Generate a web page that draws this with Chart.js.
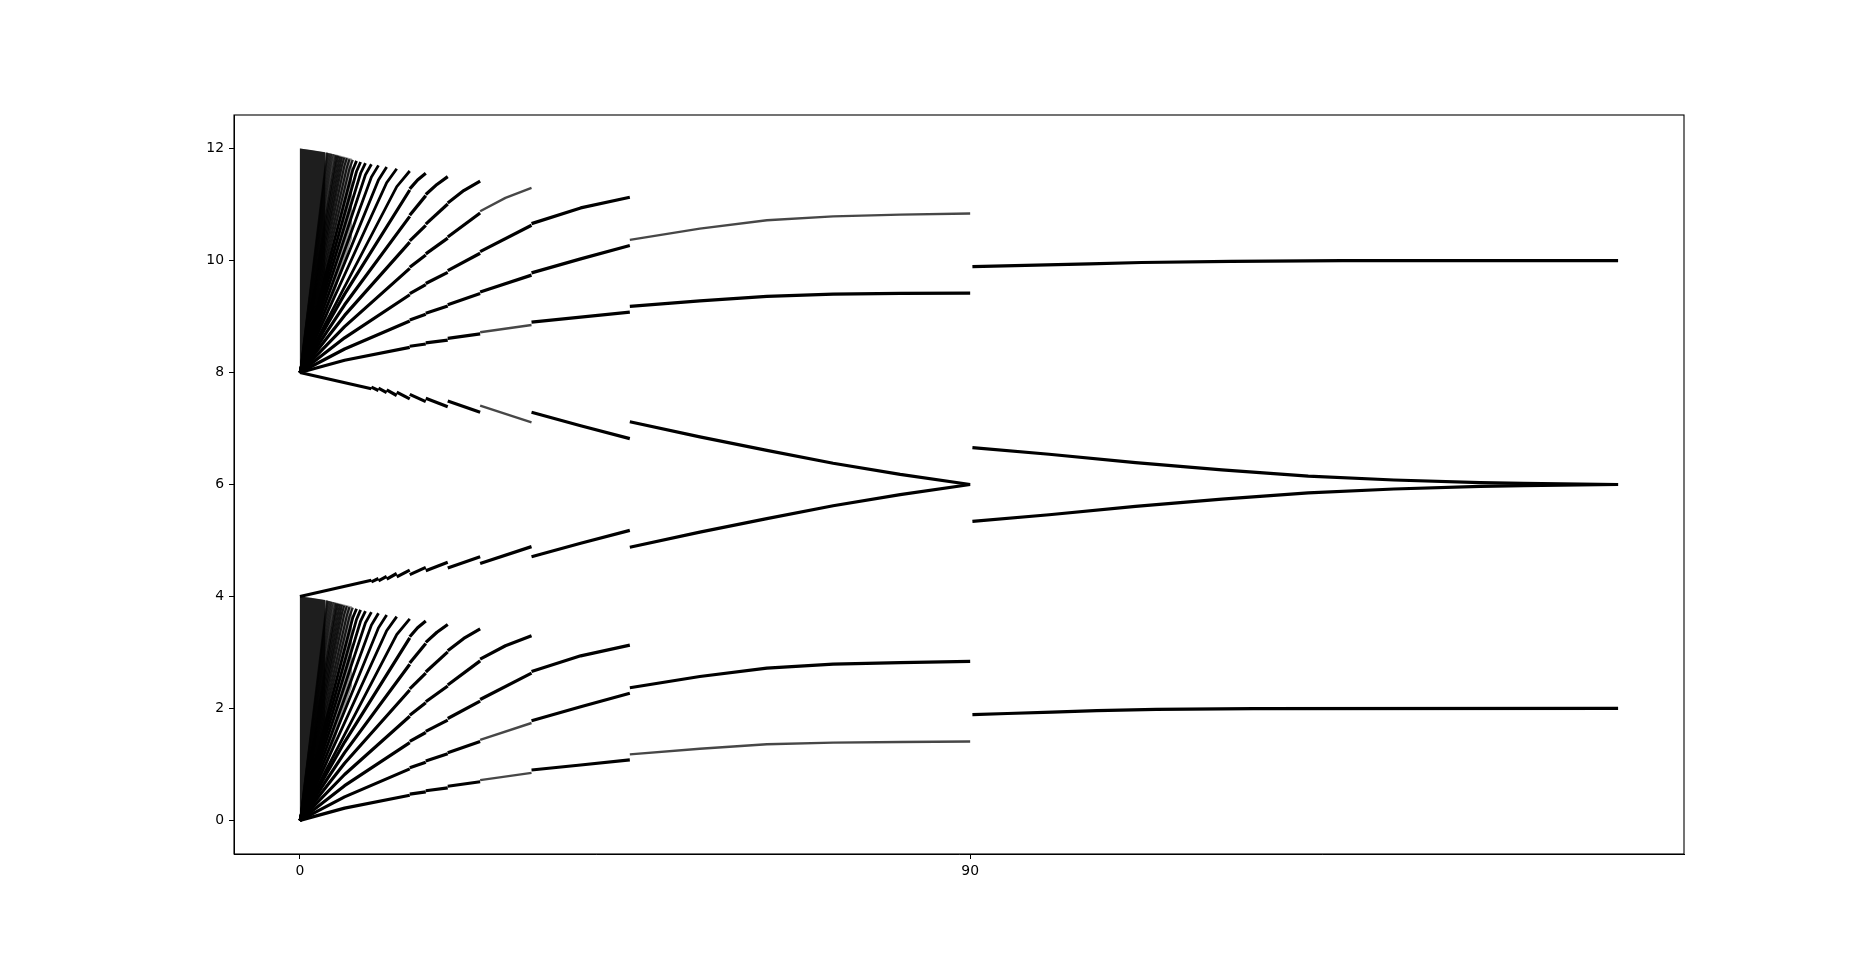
<!DOCTYPE html>
<html><head><meta charset="utf-8">
<script src="https://cdn.jsdelivr.net/npm/chart.js@4.4.1/dist/chart.umd.min.js"></script>
<style>html,body{margin:0;padding:0;background:#fff;}canvas{display:block;}</style>
</head><body>
<canvas id="c" width="1871" height="959"></canvas>
<script>
const xTicks = [0, 90];
const yTicks = [0, 2, 4, 6, 8, 10, 12];

// ---- upper fan (8..12): each ray split into its segment pieces ----
const topRay0 = [
 [[90.3,9.89],[96,9.91],[106,9.94],[113,9.965],[125,9.985],[140,9.998],[177,10.0]],
 [[44.3,9.18],[53.7,9.28],[62.7,9.36],[71.6,9.40],[80.6,9.415],[90,9.42]],
 [[31.1,8.90],[37.7,8.99],[44.3,9.08]],
 [[24.2,8.72],[31.1,8.85]],
 [[19.85,8.61],[24.2,8.69]],
 [[16.9,8.53],[19.85,8.58]],
 [[14.75,8.47],[16.9,8.51]],
 [[0,8],[6,8.22],[14.75,8.45]]
];
const topRay1 = [
 [[44.3,10.37],[53.7,10.57],[62.7,10.72],[71.6,10.79],[80.6,10.82],[90,10.84]],
 [[31.1,9.78],[37.7,10.03],[44.3,10.27]],
 [[24.2,9.44],[31.1,9.74]],
 [[19.85,9.21],[24.2,9.41]],
 [[16.9,9.06],[19.85,9.19]],
 [[14.75,8.94],[16.9,9.04]],
 [[0,8],[6,8.42],[14.75,8.92]]
];
const topRay2 = [
 [[31.1,10.66],[37.7,10.94],[44.3,11.13]],
 [[24.2,10.16],[31.1,10.63]],
 [[19.85,9.82],[24.2,10.13]],
 [[16.9,9.59],[19.85,9.79]],
 [[14.75,9.41],[16.9,9.57]],
 [[0,8],[6,8.62],[14.75,9.39]]
];
const topRay3 = [
 [[24.2,10.88],[27.6,11.12],[31.1,11.30]],
 [[19.85,10.42],[24.2,10.85]],
 [[16.9,10.12],[19.85,10.40]],
 [[14.75,9.88],[16.9,10.10]],
 [[0,8],[6,8.82],[14.75,9.86]]
];
const topRay4 = [
 [[19.85,11.03],[22,11.25],[24.2,11.42]],
 [[16.9,10.65],[19.85,11.01]],
 [[14.75,10.35],[16.9,10.63]],
 [[0,8],[6,9.02],[14.75,10.33]]
];
const topRay5 = [
 [[16.9,11.18],[18.4,11.36],[19.85,11.50]],
 [[14.75,10.81],[16.9,11.16]],
 [[0,8],[6,9.21],[14.75,10.79]]
];
const topRay6 = [
 [[14.75,11.28],[15.8,11.44],[16.9,11.56]],
 [[0,8],[6,9.40],[14.75,11.26]]
];

// ---- lower fan (0..4) ----
const botRay0 = [
 [[90.3,1.89],[95,1.91],[101,1.935],[107,1.96],[115,1.985],[128,1.998],[177,2.0]],
 [[44.3,1.18],[53.7,1.28],[62.7,1.36],[71.6,1.39],[80.6,1.40],[90,1.41]],
 [[31.1,0.90],[37.7,0.99],[44.3,1.08]],
 [[24.2,0.72],[31.1,0.85]],
 [[19.85,0.61],[24.2,0.69]],
 [[16.9,0.53],[19.85,0.58]],
 [[14.75,0.47],[16.9,0.51]],
 [[0,0],[6,0.22],[14.75,0.45]]
];
const botRay1 = [
 [[44.3,2.37],[53.7,2.57],[62.7,2.72],[71.6,2.79],[80.6,2.82],[90,2.84]],
 [[31.1,1.78],[37.7,2.03],[44.3,2.27]],
 [[24.2,1.44],[31.1,1.74]],
 [[19.85,1.21],[24.2,1.41]],
 [[16.9,1.06],[19.85,1.19]],
 [[14.75,0.94],[16.9,1.04]],
 [[0,0],[6,0.42],[14.75,0.92]]
];
const botRay2 = [
 [[31.1,2.66],[37.7,2.94],[44.3,3.13]],
 [[24.2,2.16],[31.1,2.63]],
 [[19.85,1.82],[24.2,2.13]],
 [[16.9,1.59],[19.85,1.79]],
 [[14.75,1.41],[16.9,1.57]],
 [[0,0],[6,0.62],[14.75,1.39]]
];
const botRay3 = [
 [[24.2,2.88],[27.6,3.12],[31.1,3.30]],
 [[19.85,2.42],[24.2,2.85]],
 [[16.9,2.12],[19.85,2.40]],
 [[14.75,1.88],[16.9,2.10]],
 [[0,0],[6,0.82],[14.75,1.86]]
];
const botRay4 = [
 [[19.85,3.03],[22,3.25],[24.2,3.42]],
 [[16.9,2.65],[19.85,3.01]],
 [[14.75,2.35],[16.9,2.63]],
 [[0,0],[6,1.02],[14.75,2.33]]
];
const botRay5 = [
 [[16.9,3.18],[18.4,3.36],[19.85,3.50]],
 [[14.75,2.81],[16.9,3.16]],
 [[0,0],[6,1.21],[14.75,2.79]]
];
const botRay6 = [
 [[14.75,3.28],[15.8,3.44],[16.9,3.56]],
 [[0,0],[6,1.40],[14.75,3.26]]
];

// ---- middle branches (8 -> 6 and 4 -> 6) ----
const midUpper = [
 [[90.3,6.66],[100.6,6.54],[112.2,6.39],[123.8,6.26],[135.4,6.15],[146.9,6.08],[158.5,6.035],[164.3,6.02],[177,6.0]],
 [[44.3,7.12],[53.7,6.85],[62.7,6.61],[71.6,6.38],[80.6,6.18],[90,6.0]],
 [[31.1,7.29],[37.7,7.05],[44.3,6.82]],
 [[24.2,7.41],[31.1,7.11]],
 [[19.85,7.49],[24.2,7.29]],
 [[16.9,7.54],[19.85,7.39]],
 [[14.75,7.61],[16.9,7.48]],
 [[13.0,7.65],[14.75,7.53]],
 [[11.65,7.69],[13.0,7.59]],
 [[10.55,7.72],[11.65,7.64]],
 [[9.6,7.74],[10.55,7.68]],
 [[0,8],[9.6,7.71]]
];
const midLower = [
 [[90.3,5.34],[100.6,5.46],[112.2,5.61],[123.8,5.74],[135.4,5.85],[146.9,5.92],[158.5,5.965],[164.3,5.98],[177,6.0]],
 [[44.3,4.88],[53.7,5.15],[62.7,5.39],[71.6,5.62],[80.6,5.82],[90,6.0]],
 [[31.1,4.71],[37.7,4.95],[44.3,5.18]],
 [[24.2,4.59],[31.1,4.89]],
 [[19.85,4.51],[24.2,4.71]],
 [[16.9,4.46],[19.85,4.61]],
 [[14.75,4.39],[16.9,4.52]],
 [[13.0,4.35],[14.75,4.47]],
 [[11.65,4.31],[13.0,4.41]],
 [[10.55,4.28],[11.65,4.36]],
 [[9.6,4.26],[10.55,4.32]],
 [[0,4],[9.6,4.29]]
];

// ---- dense part of the fans (rays 7..30) ----
const denseEndX = [14.75,13.0,11.65,10.55,9.6,8.8,8.15,7.6,7.1,6.65,6.3,5.95,5.65,5.4,5.15,4.9,4.7,4.5,4.3,4.15,4.0,3.85,3.7,3.6];
const denseMidX = [13.0,11.65,10.55,9.6,8.8,8.15,7.6,7.1,6.65,6.3,5.95,5.65,5.4,5.15,4.9,4.7,4.5,4.3,4.15,4.0,3.85,3.7,3.6,3.5];
const denseTopEndY = [11.60,11.64,11.67,11.70,11.72,11.74,11.76,11.78,11.80,11.81,11.83,11.84,11.85,11.86,11.87,11.88,11.89,11.90,11.905,11.91,11.915,11.92,11.925,11.93];
const denseTopMidY = [11.32,11.39,11.44,11.49,11.53,11.56,11.59,11.62,11.64,11.66,11.68,11.70,11.71,11.72,11.73,11.74,11.75,11.76,11.77,11.78,11.785,11.79,11.795,11.80];
const denseBotEndY = [3.60,3.64,3.67,3.70,3.72,3.74,3.76,3.78,3.80,3.81,3.83,3.84,3.85,3.86,3.87,3.88,3.89,3.90,3.905,3.91,3.915,3.92,3.925,3.93];
const denseBotMidY = [3.32,3.39,3.44,3.49,3.53,3.56,3.59,3.62,3.64,3.66,3.68,3.70,3.71,3.72,3.73,3.74,3.75,3.76,3.77,3.78,3.785,3.79,3.795,3.80];

// saturated cores of the fans near x = 0
const coreTop = [[0,8],[0,12],[1.5,11.975],[3.4,11.935],[3.4,9.7],[0,8]];
const haloTop = [[0,8],[0,12],[3,11.94],[5,11.89],[7,11.82],[7,10.4],[3,8.7],[0,8]];
const coreBot = [[0,0],[0,4],[1.5,3.975],[3.4,3.935],[3.4,1.7],[0,0]];
const haloBot = [[0,0],[0,4],[3,3.94],[5,3.89],[7,3.82],[7,2.4],[3,0.7],[0,0]];

// ---- styling (kept separate from data) ----
const lightPieces = {topRay1:[0], topRay3:[0], topRay0:[3], botRay0:[1,3], botRay1:[2], midUpper:[3]};
const branches = {topRay0,topRay1,topRay2,topRay3,topRay4,topRay5,topRay6,
  botRay0,botRay1,botRay2,botRay3,botRay4,botRay5,botRay6,midUpper,midLower};

const datasets = [];
const pts = arr => arr.map(p => ({x:p[0], y:p[1]}));
function addPoly(arr, fillCol){
  datasets.push({data: pts(arr), showLine:true, borderWidth:0, borderColor:'rgba(0,0,0,0)',
    backgroundColor: fillCol, fill:'shape', pointRadius:0, tension:0});
}
addPoly(haloTop,'rgba(0,0,0,0.42)');
addPoly(haloBot,'rgba(0,0,0,0.42)');
addPoly(coreTop,'rgba(0,0,0,0.8)');
addPoly(coreBot,'rgba(0,0,0,0.8)');

for (let i = 0; i < denseEndX.length; i++) {
  const col = i < 8 ? '#000' : (i < 16 ? 'rgba(0,0,0,0.85)' : 'rgba(0,0,0,0.7)');
  const w = i < 8 ? 2.8 : (i < 16 ? 2.2 : 1.6);
  datasets.push({data: pts([[0,8],[denseMidX[i],denseTopMidY[i]],[denseEndX[i],denseTopEndY[i]]]),
    showLine:true, borderColor:col, borderWidth:w, pointRadius:0, fill:false});
  datasets.push({data: pts([[0,0],[denseMidX[i],denseBotMidY[i]],[denseEndX[i],denseBotEndY[i]]]),
    showLine:true, borderColor:col, borderWidth:w, pointRadius:0, fill:false});
}
for (const [name, pieces] of Object.entries(branches)) {
  pieces.forEach((piece, idx) => {
    const light = (lightPieces[name] || []).includes(idx);
    datasets.push({data: pts(piece), showLine:true,
      borderColor: light ? 'rgba(0,0,0,0.72)' : '#000',
      borderWidth: light ? 2.4 : 3.2, pointRadius:0, fill:false,
      borderCapStyle:'butt', borderJoinStyle:'round', tension:0});
  });
}

const frame = {
  id:'frame',
  afterDraw(chart){
    const {ctx, chartArea:a} = chart;
    ctx.save(); ctx.strokeStyle='#000'; ctx.lineWidth=1.1;
    ctx.strokeRect(a.left, a.top, a.right-a.left, a.bottom-a.top);
    ctx.restore();
  }
};

const tickFont = {family:'DejaVu Sans', size:13.9};
new Chart(document.getElementById('c'), {
  type:'scatter',
  data:{datasets},
  plugins:[frame],
  options:{
    responsive:false, animation:false, devicePixelRatio:1,
    layout:{padding:{top:115, right:187, left:0, bottom:0}},
    plugins:{legend:{display:false}, tooltip:{enabled:false}},
    elements:{point:{radius:0}},
    scales:{
      x:{type:'linear', min:-8.85, max:185.85,
        afterBuildTicks: s => { s.ticks = xTicks.map(v => ({value:v})); },
        afterFit: s => { s.height = 105; },
        grid:{display:true, drawOnChartArea:false, color:'#000', tickLength:5, lineWidth:1},
        border:{display:true, color:'#000', width:1},
        ticks:{color:'#000', font:tickFont, padding:4, maxRotation:0, autoSkip:false}},
      y:{type:'linear', min:-0.6, max:12.6,
        afterBuildTicks: s => { s.ticks = yTicks.map(v => ({value:v})); },
        afterFit: s => { s.width = 234; },
        grid:{display:true, drawOnChartArea:false, color:'#000', tickLength:5, lineWidth:1},
        border:{display:true, color:'#000', width:1},
        ticks:{color:'#000', font:tickFont, padding:5, autoSkip:false}}
    }
  }
});
</script></body></html>
